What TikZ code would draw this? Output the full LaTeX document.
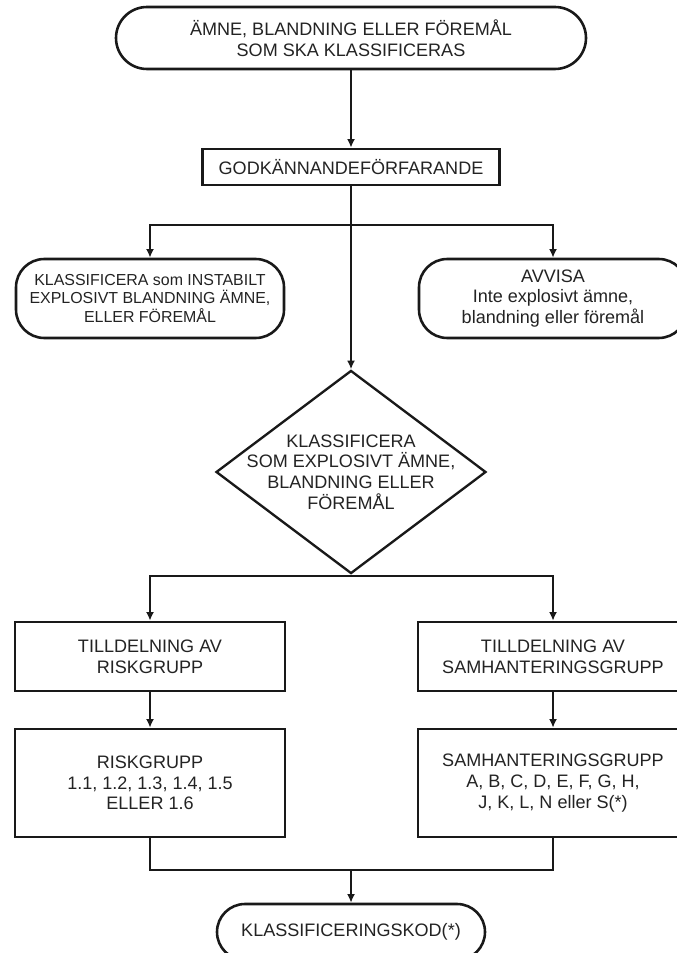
\documentclass[tikz,border=0pt]{standalone}
\usepackage{fontspec}
\setmainfont{Liberation Sans}
\usepackage{tikz}
\usetikzlibrary{
  shapes.geometric,
  shapes.misc,
  arrows.meta,
  positioning,
  calc
}
\definecolor{linecolor}{RGB}{25, 25, 25}
\definecolor{labelcolor}{RGB}{35, 35, 35}
\tikzset{
blocktext/.style={
  align=center,
  font=\fontsize{15.4}{17.6}\selectfont,
  text=labelcolor
},
terminal/.style={
  rounded rectangle,
  draw=linecolor,
  line width=2.2pt,
  fill=white,
  inner sep=0pt,
  blocktext
},
outcomebox/.style={
  rectangle,
  rounded corners=0.85cm,
  draw=linecolor,
  line width=2.2pt,
  fill=white,
  inner sep=0pt,
  minimum width=8.04cm,
  minimum height=2.37cm,
  blocktext
},
processbox/.style={
  draw=linecolor,
  line width=2.2pt,
  fill=white,
  inner sep=0pt,
  blocktext
},
decision/.style={
  diamond,
  draw=linecolor,
  line width=2pt,
  fill=white,
  inner sep=-0.6cm,
  minimum width=8.1cm,
  minimum height=4.08cm,
  blocktext
},
connector/.style={
  line width=1.5pt,
  draw=linecolor
},
arrow/.style={
  connector,
  -{Latex[length=2.6mm,width=2.4mm]}
}
}

\begin{document}
\begin{tikzpicture}
\useasboundingbox (0, 0) rectangle (20.28, -28.59);

% ============================================================================
% START OCH GODKANNANDE
% ============================================================================
\node[terminal, minimum width=14.1cm, minimum height=1.86cm] (start) at (10.53, -1.14)
    {ÄMNE, BLANDNING ELLER FÖREMÅL\\SOM SKA KLASSIFICERAS};
\node[processbox, minimum width=8.91cm, minimum height=1.08cm] (approval) at (10.53, -5.01)
    {GODKÄNNANDEFÖRFARANDE};

\draw[arrow] (start.south) -- (approval.north);

% ============================================================================
% FORSTA FORGRENINGEN
% ============================================================================
\node[outcomebox, font=\fontsize{13.6}{15.9}\selectfont] (unstable) at (4.5, -8.955)
    {KLASSIFICERA som INSTABILT\\EXPLOSIVT BLANDNING ÄMNE,\\ELLER FÖREMÅL};
\node[outcomebox] (reject) at (16.59, -8.955)
    {AVVISA\\Inte explosivt ämne,\\blandning eller föremål};

\node[decision] (explosive) at (10.53, -14.16)
    {KLASSIFICERA\\SOM EXPLOSIVT ÄMNE,\\BLANDNING ELLER\\FÖREMÅL};

\coordinate (split1) at (10.53, -6.75);
\draw[arrow] (approval.south) -- (explosive.north);
\draw[arrow] (split1) -| (unstable.north);
\draw[arrow] (split1) -| (reject.north);

% ============================================================================
% TILLDELNING (Vanster och hoger)
% ============================================================================
\node[processbox, minimum width=8.1cm, minimum height=2.07cm] (divassign) at (4.5, -19.695)
    {TILLDELNING AV\\RISKGRUPP};
\node[processbox, minimum width=8.1cm, minimum height=2.07cm] (compassign) at (16.59, -19.695)
    {TILLDELNING AV\\SAMHANTERINGSGRUPP};

\node[processbox, minimum width=8.1cm, minimum height=3.24cm] (division) at (4.5, -23.49)
    {RISKGRUPP\\1.1, 1.2, 1.3, 1.4, 1.5\\ELLER 1.6};
\node[processbox, minimum width=8.1cm, minimum height=3.24cm] (compgroup) at (16.59, -23.49)
    {SAMHANTERINGSGRUPP\\A, B, C, D, E, F, G, H,\\J, K, L, N eller S(*)};

\coordinate (split2) at (10.53, -17.28);
\draw[connector] (explosive.south) -- (split2);
\draw[arrow] (split2) -| (divassign.north);
\draw[arrow] (split2) -| (compassign.north);
\draw[arrow] (divassign.south) -- (division.north);
\draw[arrow] (compassign.south) -- (compgroup.north);

% ============================================================================
% KLASSIFICERINGSKOD
% ============================================================================
\node[terminal, minimum width=8.04cm, minimum height=1.68cm] (code) at (10.53, -27.96)
    {KLASSIFICERINGSKOD(*)};

\coordinate (join) at (10.53, -26.1);
\draw[connector] (division.south) |- (join);
\draw[connector] (compgroup.south) |- (join);
\draw[arrow] (join) -- (code.north);

\end{tikzpicture}
\end{document}
